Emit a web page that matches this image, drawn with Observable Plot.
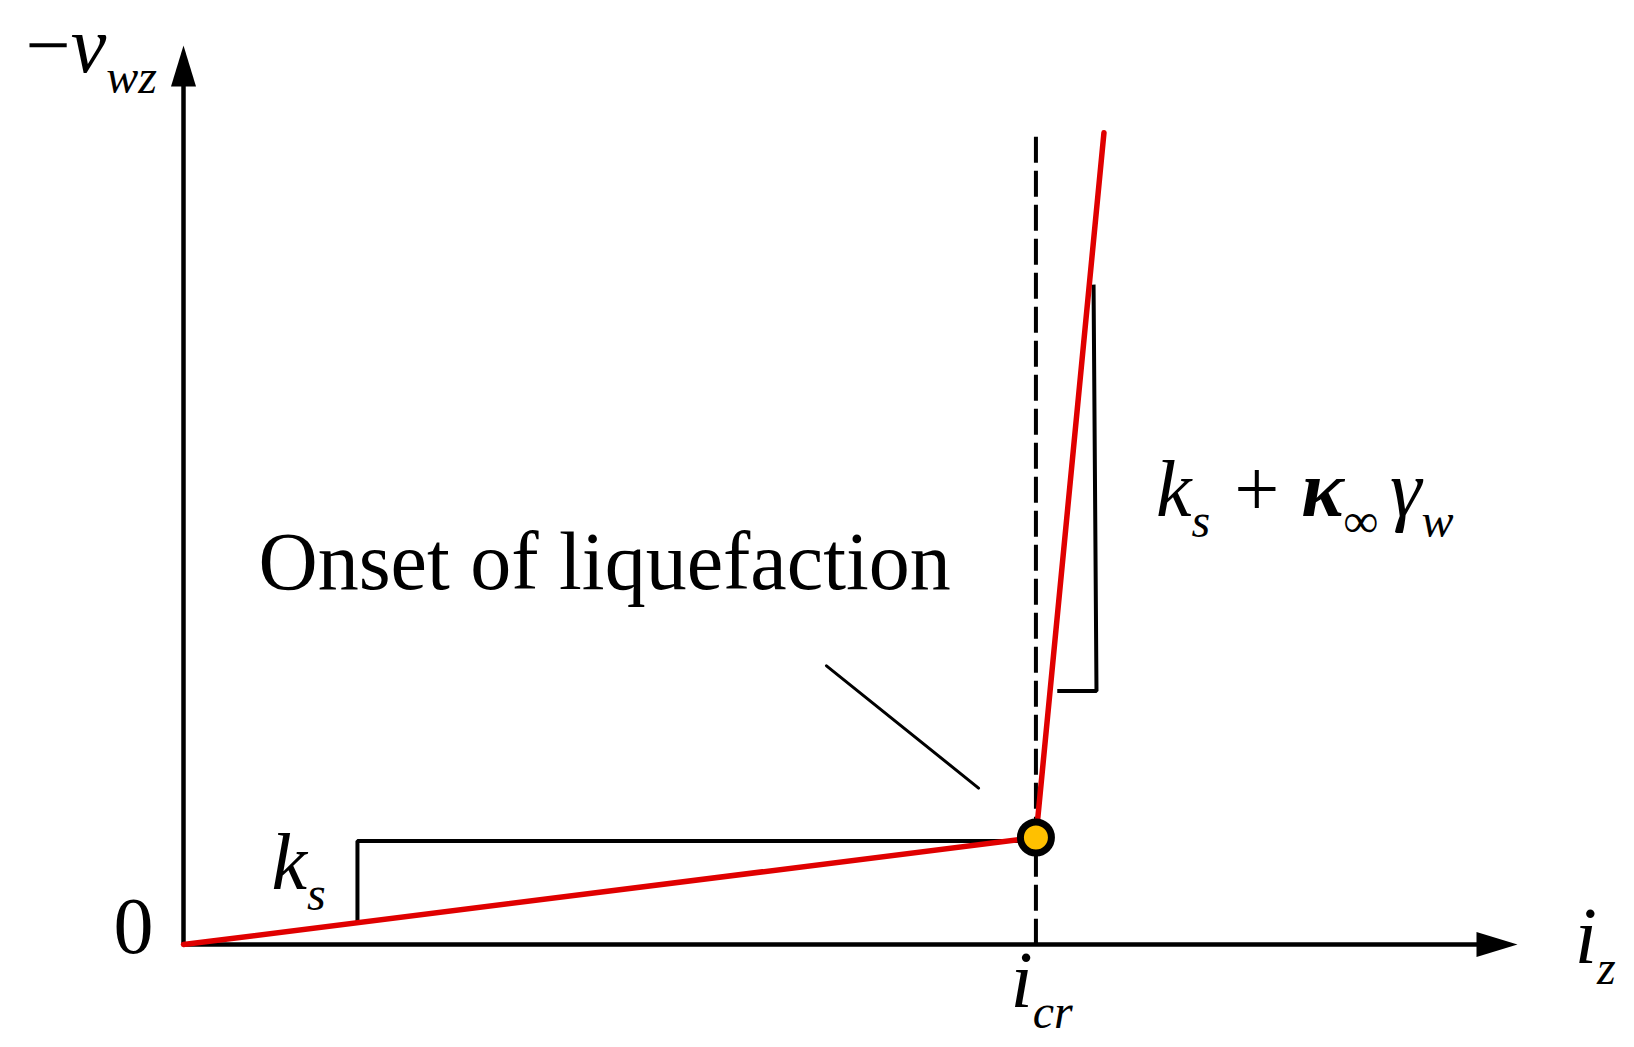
<!DOCTYPE html>
<html>
<head>
<meta charset="utf-8">
<script src="https://cdn.jsdelivr.net/npm/d3@7"></script>
<script src="https://cdn.jsdelivr.net/npm/@observablehq/plot@0.6"></script>
<style>
  html, body { margin: 0; padding: 0; background: #fff; }
  #chart svg { display: block; }
</style>
</head>
<body>
<div id="chart"></div>
<script>
// ---- data (in chart units: i_z horizontally, -v_wz vertically) ----
const axisEnd = 100;               // arrow tips of both axes
const icr = 63.9;                  // critical gradient i_cr
const onsetV = 11.9;               // -v_wz at onset of liquefaction
const curveX = [0, 63.9, 69.0];    // red piecewise line
const curveY = [0, 11.9, 90.3];
const dashTop = 89.8;              // top of dashed line at i_cr

// slope triangle for k_s
const tri1X = [13.04, 13.04, 63.9];
const tri1Y = [2.35, 11.5, 11.5];
// slope triangle for k_s + kappa gamma_w
const tri2X = [68.22, 68.44, 65.5];
const tri2Y = [73.4, 28.2, 28.2];
// leader line for "Onset of liquefaction"
const leaderX = [48.2, 59.6];
const leaderY = [31.0, 17.4];

// labels
const labelKeys = ["vwz", "zero", "ks", "onset", "slope", "icr", "iz"];
const labelX = [-11.84, -3.75, 6.6, 5.62, 72.9, 62.0, 104.3];
const labelY = [97.1, -1.0, 6.12, 39.5, 47.7, -7.0, -2.1];
const labelAnchor = ["start", "middle", "start", "start", "start", "start", "start"];
const labelSize = [80, 80, 80, 82, 80, 80, 80];
// parts: [text, kind, extra gap]  r = roman, i = italic, b = bold italic, s = italic subscript
const labelParts = {
  vwz: [["\u2212", "r"], ["v", "i"], ["wz", "s"]],
  zero: [["0", "r"]],
  ks: [["k", "i"], ["s", "s"]],
  onset: [["Onset of liquefaction", "r"]],
  slope: [["k", "i"], ["s", "s"], [" + ", "r", 4], ["\u03BA", "b", 2], ["\u221E", "s"], ["\u03B3", "i", 12], ["w", "s"]],
  icr: [["i", "i"], ["cr", "s"]],
  iz: [["i", "i"], ["z", "s"]]
};

const labels = labelKeys.map((k, i) => ({key: k, x: labelX[i], y: labelY[i], anchor: labelAnchor[i], size: labelSize[i]}));
const curve = curveX.map((x, i) => ({x, y: curveY[i]}));
const tri1 = tri1X.map((x, i) => ({x, y: tri1Y[i]}));
const tri2 = tri2X.map((x, i) => ({x, y: tri2Y[i]}));
const leader = leaderX.map((x, i) => ({x, y: leaderY[i]}));

// elongated filled arrowhead symbol, tip at the anchor point
const arrowHead = {
  draw(context) {
    context.moveTo(0, 0);
    context.lineTo(12.5, 41);
    context.lineTo(-12.5, 41);
    context.closePath();
  }
};

const font = "Liberation Serif, Times New Roman, serif";

const chart = Plot.plot({
  width: 1634,
  height: 1047,
  margin: 0,
  x: {domain: [0, 100], range: [183, 1517], axis: null},
  y: {domain: [0, 100], range: [944, 45], axis: null},
  style: {background: "white", fontFamily: font},
  marks: [
    // axes
    Plot.ruleY([0], {x1: 0, x2: axisEnd - 2, stroke: "black", strokeWidth: 4.5}),
    Plot.ruleX([0], {y1: 0, y2: axisEnd - 2, stroke: "black", strokeWidth: 4.5}),
    Plot.dot([{x: 0, y: axisEnd}], {x: "x", y: "y", symbol: arrowHead, fill: "black", stroke: "none", r: 10}),
    Plot.dot([{x: axisEnd, y: 0}], {x: "x", y: "y", symbol: arrowHead, fill: "black", stroke: "none", r: 10, rotate: 90}),
    // dashed i_cr line
    Plot.ruleX([icr], {y1: dashTop, y2: 0, stroke: "black", strokeWidth: 4, strokeDasharray: "26,8"}),
    // slope triangles
    Plot.line(tri1, {x: "x", y: "y", stroke: "black", strokeWidth: 4, strokeLinejoin: "miter", strokeLinecap: "butt"}),
    Plot.line(tri2, {x: "x", y: "y", stroke: "black", strokeWidth: 4, strokeLinejoin: "miter", strokeLinecap: "butt"}),
    // red curve
    Plot.line(curve, {x: "x", y: "y", stroke: "#E00000", strokeWidth: 5.5, strokeLinejoin: "miter"}),
    // leader line
    Plot.line(leader, {x: "x", y: "y", stroke: "black", strokeWidth: 3}),
    // onset point
    Plot.dot([{x: icr, y: onsetV}], {x: "x", y: "y", r: 15.5, fill: "#FFC000", stroke: "black", strokeWidth: 7}),
    // labels
    Plot.text(labels.filter(d => d.anchor === "start"), {x: "x", y: "y", text: "key", textAnchor: "start", lineAnchor: "bottom", fontSize: "size", fontFamily: font, fill: "black"}),
    Plot.text(labels.filter(d => d.anchor === "middle"), {x: "x", y: "y", text: "key", textAnchor: "middle", lineAnchor: "bottom", fontSize: "size", fontFamily: font, fill: "black"})
  ]
});

// rebuild label texts with italic / subscript tspans
const NS = "http://www.w3.org/2000/svg";
const subSize = 48, subShift = 21;
chart.querySelectorAll("text").forEach(t => {
  const key = t.textContent.trim();
  const parts = labelParts[key];
  if (!parts) return;
  while (t.firstChild) t.removeChild(t.firstChild);
  let shifted = 0;
  parts.forEach(([txt, kind, gap]) => {
    const ts = document.createElementNS(NS, "tspan");
    ts.textContent = txt;
    ts.style.whiteSpace = "pre";
    ts.setAttribute("font-style", kind === "r" ? "normal" : "italic");
    if (kind === "b") ts.setAttribute("font-weight", "bold");
    if (gap) ts.setAttribute("dx", gap);
    if (kind === "s") {
      ts.setAttribute("font-size", subSize);
      if (!shifted) { ts.setAttribute("dy", subShift); shifted = 1; }
    } else {
      if (shifted) { ts.setAttribute("dy", -subShift); shifted = 0; }
    }
    t.appendChild(ts);
  });
  t.style.whiteSpace = "pre";
});

document.getElementById("chart").appendChild(chart);
</script>
</body>
</html>
